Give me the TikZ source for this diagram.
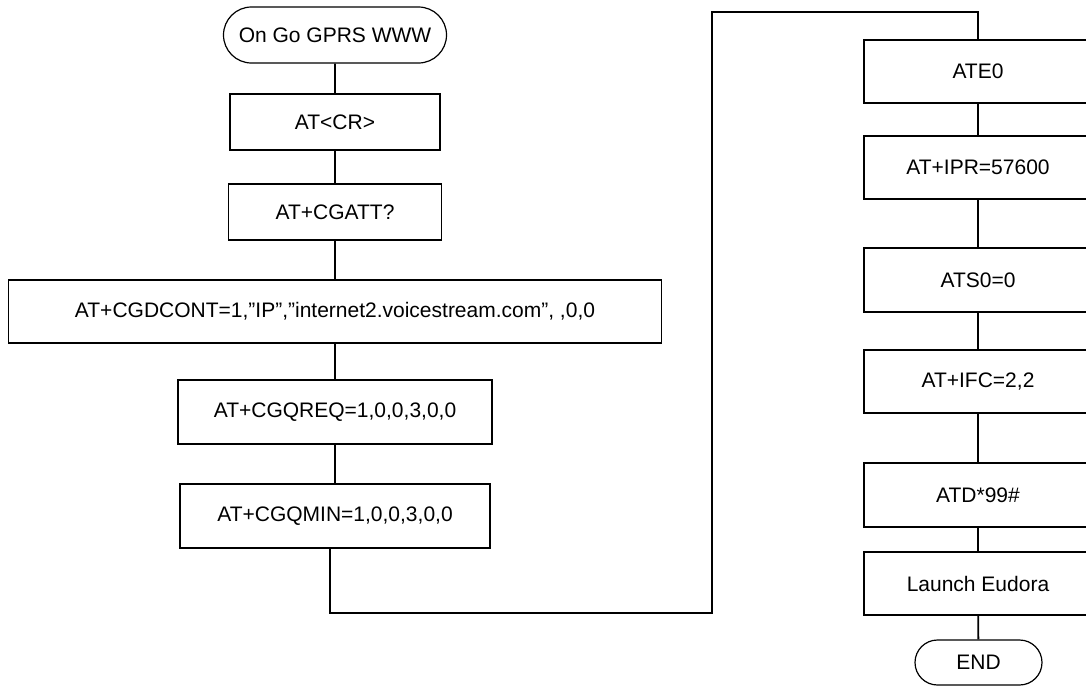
\documentclass[tikz,border=0pt]{standalone}
\usepackage{fontspec}
\setmainfont{Liberation Sans}
\usetikzlibrary{shapes.misc}
\begin{document}
\begin{tikzpicture}[x=1pt,y=-1pt,
  every node/.style={font=\fontsize{21}{25}\selectfont, inner sep=0pt},
  stepbox/.style={draw, line width=1.8pt, rectangle, minimum height=#1},
  stepbox/.default=63,
  term/.style={draw, line width=1.2pt, rounded rectangle},
  conn/.style={line width=1.8pt}]
\useasboundingbox (0,0) rectangle (1086,686);
\clip (0,0) rectangle (1086,686);
% left column
\node[term, minimum width=223, minimum height=56] (start) at (335,35) {On Go GPRS WWW};
\node[stepbox=56, minimum width=210] (cr) at (335,122) {AT<CR>};
\node[stepbox=56, minimum width=213] (gatt) at (335,212) {AT+CGATT?};
\node[stepbox=63, minimum width=653] (cont) at (335,311.5) {AT+CGDCONT=1,”IP”,”internet2.voicestream.com”, ,0,0};
\node[stepbox=64, minimum width=314] (req) at (335,412) {AT+CGQREQ=1,0,0,3,0,0};
\node[stepbox=64, minimum width=310] (min) at (335,516) {AT+CGQMIN=1,0,0,3,0,0};
% right column
\node[stepbox=63, minimum width=228] (ate) at (978,71.5) {ATE0};
\node[stepbox=63, minimum width=228] (ipr) at (978,167.5) {AT+IPR=57600};
\node[stepbox=64, minimum width=228] (ats) at (978,280) {ATS0=0};
\node[stepbox=63, minimum width=228] (ifc) at (978,381.5) {AT+IFC=2,2};
\node[stepbox=64, minimum width=228] (atd) at (978,495) {ATD*99\#};
\node[stepbox=63, minimum width=228] (eud) at (978,583.5) {Launch Eudora};
\node[term, minimum width=127, minimum height=45] (end) at (978.5,662.5) {END};
% connectors
\coordinate (b1) at (712,613);
\coordinate (t1) at (712,12);
\draw[conn] (start) -- (cr);
\draw[conn] (cr) -- (gatt);
\draw[conn] (gatt) -- (cont);
\draw[conn] (cont) -- (req);
\draw[conn] (req) -- (min);
\draw[conn] ([xshift=-5pt]min.south) |- (b1) -- (t1) -| (ate.north);
\draw[conn] (ate) -- (ipr);
\draw[conn] (ipr) -- (ats);
\draw[conn] (ats) -- (ifc);
\draw[conn] (ifc) -- (atd);
\draw[conn] (atd) -- (eud);
\draw[conn] (eud) -- (end);
\end{tikzpicture}
\end{document}
